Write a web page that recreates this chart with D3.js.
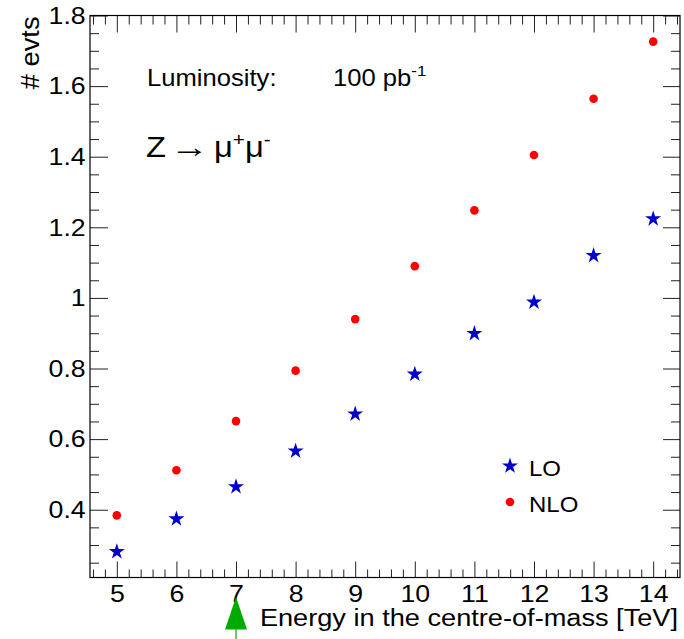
<!DOCTYPE html>
<html>
<head>
<meta charset="utf-8">
<script src="https://cdn.jsdelivr.net/npm/d3@7"></script>
<style>
  html, body { margin: 0; padding: 0; background: #fff; }
  svg { display: block; }
  text { font-family: "Liberation Sans", Arial, Helvetica, sans-serif; fill: #000; }
</style>
</head>
<body>
<script>
// Centre-of-mass energies [TeV] and expected event counts
const energy = [5, 6, 7, 8, 9, 10, 11, 12, 13, 14];
const loEvents = [0.281, 0.374, 0.465, 0.566, 0.671, 0.784, 0.899, 0.988, 1.120, 1.224];
const nloEvents = [0.384, 0.512, 0.651, 0.794, 0.940, 1.090, 1.248, 1.405, 1.564, 1.726];

const xMajorTicks = [5, 6, 7, 8, 9, 10, 11, 12, 13, 14];
const yMajorTicks = [0.4, 0.6, 0.8, 1.0, 1.2, 1.4, 1.6, 1.8];

const W = 684, H = 639;
const frame = { left: 90, right: 680, top: 15.5, bottom: 577.5 };
const SX = 1.09; // horizontal glyph stretch for the Helvetica-like labels

const svg = d3.select("body").append("svg")
  .attr("width", W).attr("height", H);

const x = d3.scaleLinear().domain([4.55, 14.45]).range([frame.left, frame.right]);
const y = d3.scaleLinear().domain([0.208, 1.8]).range([frame.bottom, frame.top]);

// Minor tick positions
const xMinor = d3.range(4.6, 14.45, 0.2).map(v => +v.toFixed(2))
  .filter(v => Math.abs(v - Math.round(v)) > 1e-6);
const yMinor = d3.range(0.25, 1.8, 0.05).map(v => +v.toFixed(2))
  .filter(v => Math.abs(v * 5 - Math.round(v * 5)) > 1e-6);

const fmtY = v => (Math.abs(v - 1) < 1e-9 ? "1" : d3.format(".1f")(v));

function styleAxis(g) {
  g.select(".domain").remove();
  g.selectAll(".tick line").attr("stroke", "#222").attr("stroke-width", 1);
}

// Bottom axis: major ticks with labels, pointing inward
const gxB = svg.append("g").attr("transform", `translate(0,${frame.bottom})`);
gxB.call(d3.axisBottom(x).tickValues(xMajorTicks).tickSize(-16).tickPadding(7).tickFormat(d3.format("d")))
  .call(styleAxis);
gxB.selectAll(".tick text").attr("font-size", 24.5).attr("transform", `scale(${SX},1)`)
  .attr("font-family", "Liberation Sans, Arial, sans-serif").attr("fill", "#000");
svg.append("g").attr("transform", `translate(0,${frame.bottom})`)
  .call(d3.axisBottom(x).tickValues(xMinor).tickSize(-8).tickFormat(""))
  .call(styleAxis);

// Top axis mirror
svg.append("g").attr("transform", `translate(0,${frame.top})`)
  .call(d3.axisTop(x).tickValues(xMajorTicks).tickSize(-17).tickFormat(""))
  .call(styleAxis);
svg.append("g").attr("transform", `translate(0,${frame.top})`)
  .call(d3.axisTop(x).tickValues(xMinor).tickSize(-9).tickFormat(""))
  .call(styleAxis);

// Left axis
const gyL = svg.append("g").attr("transform", `translate(${frame.left},0)`);
gyL.call(d3.axisLeft(y).tickValues(yMajorTicks).tickSize(-18).tickPadding(4).tickFormat(fmtY))
  .call(styleAxis);
gyL.selectAll(".tick text").attr("font-size", 24.5).attr("transform", `scale(${SX},1)`)
  .attr("font-family", "Liberation Sans, Arial, sans-serif").attr("fill", "#000");
svg.append("g").attr("transform", `translate(${frame.left},0)`)
  .call(d3.axisLeft(y).tickValues(yMinor).tickSize(-9).tickFormat(""))
  .call(styleAxis);

// Right axis mirror
svg.append("g").attr("transform", `translate(${frame.right},0)`)
  .call(d3.axisRight(y).tickValues(yMajorTicks).tickSize(-17).tickFormat(""))
  .call(styleAxis);
svg.append("g").attr("transform", `translate(${frame.right},0)`)
  .call(d3.axisRight(y).tickValues(yMinor).tickSize(-9).tickFormat(""))
  .call(styleAxis);

// Frame
svg.append("rect")
  .attr("x", frame.left).attr("y", frame.top)
  .attr("width", frame.right - frame.left).attr("height", frame.bottom - frame.top)
  .attr("fill", "none").attr("stroke", "#000").attr("stroke-width", 1.2);

// Text helper with horizontal stretch
function label(px, py, size, anchor, rotate, sx) {
  const g = svg.append("g")
    .attr("transform", `translate(${px},${py})${rotate ? ` rotate(${rotate})` : ""} scale(${sx || SX},1)`);
  return g.append("text").attr("font-size", size).attr("text-anchor", anchor);
}

// Axis titles
label(38.5, 16.5, 25, "end", -90).text("# evts");
label(678, 626, 24.7, "end", 0, 1.1).text("Energy in the centre-of-mass [TeV]");

// Annotations
label(147, 86, 23.5, "start").text("Luminosity:");
const lum = label(333, 86, 23.5, "start");
lum.append("tspan").text("100 pb");
lum.append("tspan").attr("dy", -10).attr("font-size", 15.5).text("-1");

label(146, 157, 30, "start").text("Z");
label(170, 157, 30, "start", 0, 1.3).text("\u2192");
const mu = label(214, 157, 30, "start");
mu.append("tspan").text("\u03bc");
mu.append("tspan").attr("dy", -11).attr("font-size", 19).text("+");
mu.append("tspan").attr("dy", 11).text("\u03bc");
mu.append("tspan").attr("dy", -11).attr("font-size", 19).text("-");

// Markers
const star = d3.symbol().type(d3.symbolStar).size(80);
const loColor = "#0000cc", nloColor = "#ff0000";

svg.append("g").selectAll("path")
  .data(energy.map((e, i) => [e, loEvents[i]]))
  .join("path")
  .attr("d", star)
  .attr("transform", d => `translate(${x(d[0])},${y(d[1])})`)
  .attr("fill", loColor);

svg.append("g").selectAll("circle")
  .data(energy.map((e, i) => [e, nloEvents[i]]))
  .join("circle")
  .attr("cx", d => x(d[0])).attr("cy", d => y(d[1]))
  .attr("r", 4.3).attr("fill", nloColor);

// Legend
const leg = svg.append("g");
leg.append("path").attr("d", star).attr("transform", "translate(510,466)").attr("fill", loColor);
leg.append("circle").attr("cx", 510).attr("cy", 502).attr("r", 4.3).attr("fill", nloColor);
label(529, 476, 22, "start").text("LO");
label(529, 512, 22, "start").text("NLO");

// Marker on the energy axis at 7 TeV
const ax = x(7);
const arrow = svg.append("g");
arrow.append("line").attr("x1", ax).attr("x2", ax).attr("y1", 620).attr("y2", 639)
  .attr("stroke", "#00aa00").attr("stroke-width", 1.2);
arrow.append("path")
  .attr("d", `M${ax},597 L${ax - 11},629.5 L${ax + 11},629.5 Z`)
  .attr("fill", "#00aa00");
</script>
</body>
</html>
